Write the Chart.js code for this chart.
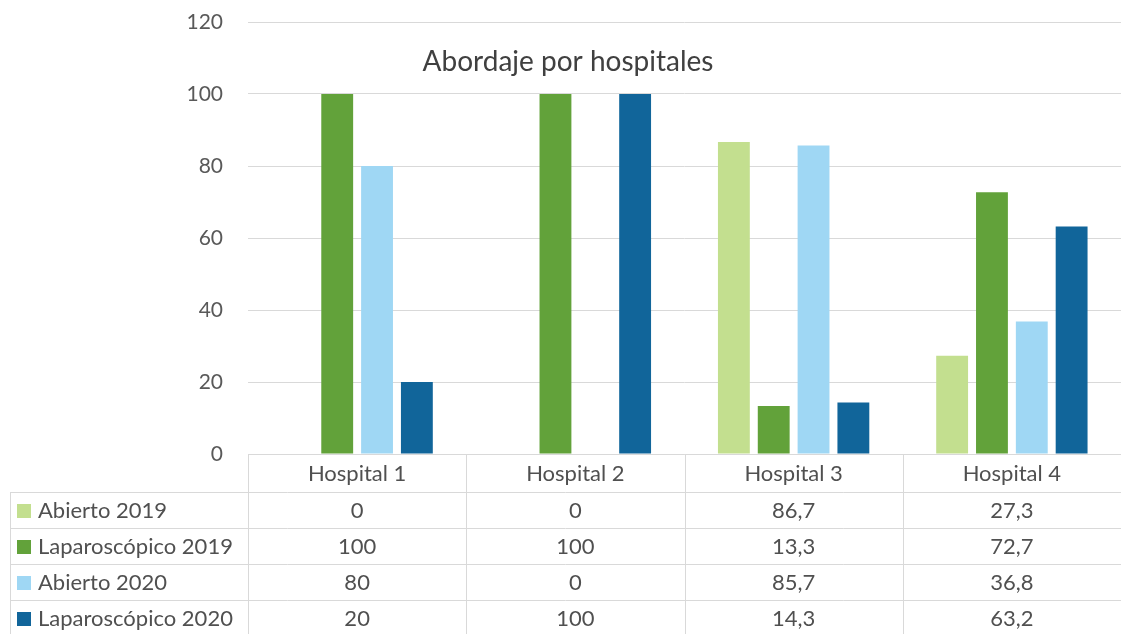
<!DOCTYPE html>
<html>
<head>
<meta charset="utf-8">
<script src="https://cdn.jsdelivr.net/npm/chart.js@4/dist/chart.umd.min.js"></script>
<style>
  html, body { margin: 0; padding: 0; background: #fff; }
  #wrap { width: 1121px; height: 634px; }
</style>
</head>
<body>
<div id="wrap"><canvas id="myChart" width="1121" height="634"></canvas></div>
<script>
const categories = ["Hospital 1", "Hospital 2", "Hospital 3", "Hospital 4"];
const seriesNames = ["Abierto 2019", "Laparoscópico 2019", "Abierto 2020", "Laparoscópico 2020"];
const abierto2019 = [0, 0, 86.7, 27.3];
const laparoscopico2019 = [100, 100, 13.3, 72.7];
const abierto2020 = [80, 0, 85.7, 36.8];
const laparoscopico2020 = [20, 100, 14.3, 63.2];
const seriesColors = ["#c3df8f", "#62a23a", "#9fd7f4", "#11659a"];

const fontFamily = "Lato, 'Noto Sans', sans-serif";
const fmt = v => String(v).replace(".", ",");

// table under the plot, columns follow the x scale
const dataTable = {
    id: 'dataTable',
    afterDraw(chart) {
        const {ctx, chartArea: {left, right, bottom}} = chart;
        const x = chart.scales.x;
        const colW = (right - left) / categories.length;
        const headH = 38, rowH = 36, tableLeft = 10;
        const values = [abierto2019, laparoscopico2019, abierto2020, laparoscopico2020];
        ctx.save();
        ctx.strokeStyle = '#d9d9d9';
        ctx.lineWidth = 1;
        ctx.beginPath();
        // top line of the table (axis line)
        ctx.moveTo(left, bottom + 0.5); ctx.lineTo(right, bottom + 0.5);
        for (let r = 0; r < seriesNames.length; r++) {
            const y = Math.round(bottom + headH + r * rowH) + 0.5;
            ctx.moveTo(tableLeft, y); ctx.lineTo(right, y);
        }
        ctx.moveTo(tableLeft + 0.5, bottom + headH); ctx.lineTo(tableLeft + 0.5, chart.height);
        for (let c = 0; c <= categories.length; c++) {
            const xx = Math.round(left + c * colW) + 0.5;
            ctx.moveTo(xx, bottom); ctx.lineTo(xx, chart.height);
        }
        ctx.stroke();

        ctx.fillStyle = '#505050';
        ctx.font = '22px ' + fontFamily;
        ctx.textAlign = 'center';
        ctx.textBaseline = 'middle';
        categories.forEach((cat, i) => {
            ctx.fillText(cat, x.getPixelForValue(i), bottom + headH / 2 + 1);
        });
        seriesNames.forEach((name, r) => {
            const cy = bottom + headH + r * rowH + rowH / 2 + 1;
            ctx.fillStyle = seriesColors[r];
            ctx.fillRect(17, cy - 7, 14, 14);
            ctx.fillStyle = '#505050';
            ctx.textAlign = 'left';
            ctx.fillText(name, 38, cy);
            ctx.textAlign = 'center';
            values[r].forEach((v, i) => {
                ctx.fillText(fmt(v), x.getPixelForValue(i), cy);
            });
        });

        // title sits inside the plot, as in the original
        ctx.fillStyle = '#404040';
        ctx.font = '28px ' + fontFamily;
        ctx.fillText('Abordaje por hospitales', 568, 62);
        ctx.restore();
    }
};

const data = {
    labels: categories,
    datasets: [
        {label: seriesNames[0], data: abierto2019, backgroundColor: seriesColors[0]},
        {label: seriesNames[1], data: laparoscopico2019, backgroundColor: seriesColors[1]},
        {label: seriesNames[2], data: abierto2020, backgroundColor: seriesColors[2]},
        {label: seriesNames[3], data: laparoscopico2020, backgroundColor: seriesColors[3]}
    ]
};

const options = {
    responsive: false,
    animation: false,
    datasets: {
        bar: {barPercentage: 0.8, categoryPercentage: 0.73}
    },
    layout: {padding: {top: 22, bottom: 180, left: 0, right: 0}},
    plugins: {
        legend: {display: false},
        tooltip: {enabled: false}
    },
    scales: {
        x: {display: false},
        y: {
            min: 0,
            max: 120,
            ticks: {stepSize: 20, color: '#595959', padding: 25, font: {size: 21, family: fontFamily}},
            grid: {color: '#d9d9d9', drawTicks: false},
            border: {display: false},
            afterFit(scale) {
                scale.width = 248;
                scale.paddingTop = 0;
                scale.paddingBottom = 0;
            }
        }
    }
};

const chart = new Chart(document.getElementById('myChart').getContext('2d'), {
    type: 'bar',
    data: data,
    options: options,
    plugins: [dataTable]
});
</script>
</body>
</html>
